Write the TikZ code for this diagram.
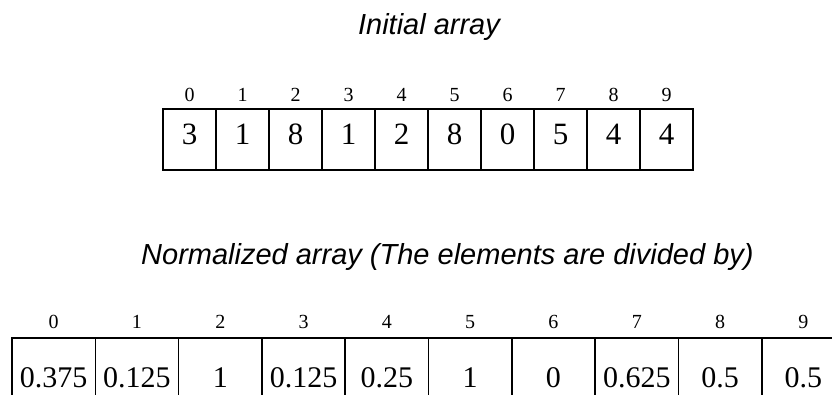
\documentclass[tikz,border=0pt]{standalone}
\usepackage{fontspec}
\setmainfont{Liberation Serif}
\newfontfamily\titlefont{Liberation Sans}
\begin{document}
\begin{tikzpicture}[x=1pt,y=-1pt,
  title/.style={font=\titlefont\itshape\fontsize{29}{32}\selectfont,inner sep=0pt,anchor=base},
  idx/.style={font=\fontsize{20}{22}\selectfont,inner sep=0pt},
  cellA/.style={draw,line width=1.6pt,minimum width=53pt,minimum height=61pt,inner sep=0pt,
    text height=1.0em,text depth=0pt,font=\fontsize{31}{33}\selectfont},
  cellB/.style={draw,line width=1.6pt,minimum width=83.3pt,minimum height=80pt,inner sep=0pt,
    font=\fontsize{30}{32}\selectfont}]
  \useasboundingbox (0,0) rectangle (832,394);
  \clip (0,0) rectangle (832,394);

  % initial array
  \node[title] (t1) at (429,34) {Initial array};
  \foreach \v [count=\i from 0] in {3,1,8,1,2,8,0,5,4,4} {
    \node[cellA] (a\i) at (189.5+53*\i,139.5) {\v};
    \node[idx] (ai\i) at (189.5+53*\i,95) {\i};
  }

  % normalized array
  \node[title,anchor=base west] (t2) at (141,264) {Normalized array (The elements are divided by)};
  \foreach \v [count=\i from 0] in {0.375,0.125,1,0.125,0.25,1,0,0.625,0.5,0.5} {
    \node[cellB] (b\i) at (53.65+83.3*\i,378) {\v};
    \node[idx] (bi\i) at (53.65+83.3*\i,322) {\i};
  }
\end{tikzpicture}
\end{document}
